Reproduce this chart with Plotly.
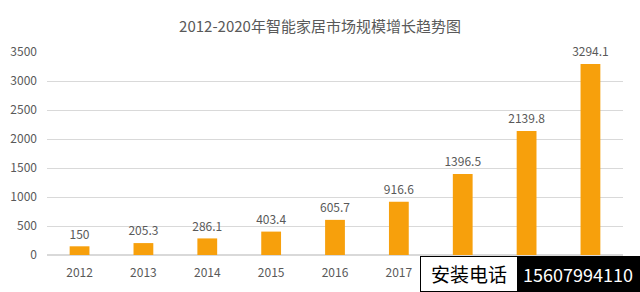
import plotly.graph_objects as go

years = ["2012", "2013", "2014", "2015", "2016", "2017", "2018", "2019", "2020"]
values = [150, 205.3, 286.1, 403.4, 605.7, 916.6, 1396.5, 2139.8, 3294.1]
labels = ["150", "205.3", "286.1", "403.4", "605.7", "916.6", "1396.5", "2139.8", "3294.1"]
y_ticks = [0, 500, 1000, 1500, 2000, 2500, 3000, 3500]

FONT = "Noto Sans CJK SC, Noto Sans, sans-serif"
GREY = "#595959"

fig = go.Figure()
fig.add_trace(go.Bar(
    x=years, y=values,
    marker=dict(color="#F7A00C", line=dict(width=0)),
))
fig.add_trace(go.Scatter(
    x=years, y=values, text=labels, mode="markers+text", textposition="top center",
    marker=dict(size=6, opacity=0),
    textfont=dict(size=12, color=GREY, family=FONT), cliponaxis=False,
    hoverinfo="skip",
))

fig.update_layout(
    width=640, height=292,
    margin=dict(l=47, r=17, t=52, b=37),
    paper_bgcolor="white", plot_bgcolor="white",
    bargap=0.69,
    showlegend=False,
    title=dict(text="2012-2020年智能家居市场规模增长趋势图", x=0.5, xanchor="center",
               y=1 - 27/292, yanchor="middle",
               font=dict(size=15, color=GREY, family=FONT)),
    xaxis=dict(type="category", showgrid=False, showline=False, ticks="",
               ticklabelstandoff=9, automargin=False,
               tickfont=dict(size=12, color=GREY, family=FONT)),
    yaxis=dict(range=[0, 3500], tickvals=y_ticks, showgrid=True, gridcolor="#D9D9D9",
               gridwidth=1, zeroline=True, zerolinecolor="#D9D9D9", ticks="",
               ticklabelstandoff=9, automargin=False,
               tickfont=dict(size=12, color=GREY, family=FONT)),
)

# watermark box from the reference image
fig.add_shape(type="rect", xref="paper", yref="paper",
              x0=(420-47)/576, x1=(640-47)/576, y0=-37/203, y1=(292-256)/203 - 37/203,
              fillcolor="black", line=dict(width=0), layer="above")
fig.add_shape(type="rect", xref="paper", yref="paper",
              x0=(421-47)/576, x1=(517-47)/576, y0=-36/203, y1=(292-257)/203 - 37/203,
              fillcolor="white", line=dict(width=0), layer="above")
fig.add_annotation(text="安装电话", xref="paper", yref="paper",
                   x=(469-47)/576, y=-18.5/203, xanchor="center", yanchor="middle",
                   showarrow=False, font=dict(size=19, color="black", family=FONT))
fig.add_annotation(text="15607994110", xref="paper", yref="paper",
                   x=(578-47)/576, y=-18.5/203, xanchor="center", yanchor="middle",
                   showarrow=False, font=dict(size=18, color="white", family=FONT))

fig.write_html("out.html")
